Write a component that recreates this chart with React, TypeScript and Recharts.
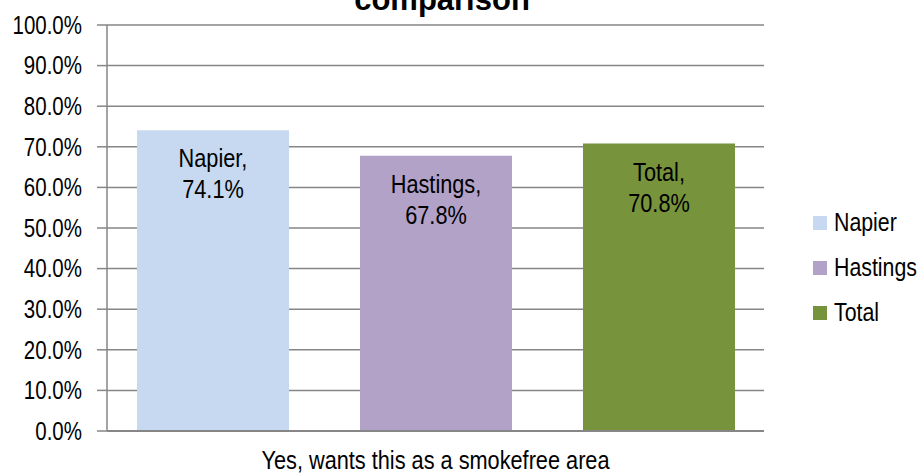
import { BarChart, Bar, XAxis, YAxis, CartesianGrid, Legend, LabelList } from 'recharts'

const categories = ['Yes, wants this as a smokefree area']
const seriesNames = ['Napier', 'Hastings', 'Total']
const napier = [0.741]
const hastings = [0.678]
const total = [0.708]
const yTicks = [0, 0.1, 0.2, 0.3, 0.4, 0.5, 0.6, 0.7, 0.8, 0.9, 1]
const edgeTicks = [0, 1]

const colors = ['#C6D9F1', '#B3A2C7', '#77933C']
const font = '"Liberation Sans", Arial, sans-serif'
const grey = '#868686'
// no narrow font installed, so squeeze regular Liberation Sans
const squeeze = 0.82

const data = categories.map((c, i) => ({
  category: c,
  Napier: napier[i],
  Hastings: hastings[i],
  Total: total[i],
}))

const pct = (v: number) => `${(v * 100).toFixed(1)}%`

function YTick(props: any) {
  const { x, y, payload } = props
  return (
    <text
      transform={`translate(${x},${y}) scale(${squeeze},1)`}
      textAnchor="end"
      dy="0.35em"
      fontSize={25}
      fontFamily={font}
      fill="#000"
    >
      {pct(payload.value)}
    </text>
  )
}

function XTick(props: any) {
  const { x, y, payload } = props
  return (
    <text
      transform={`translate(${x},${y}) scale(${squeeze},1)`}
      textAnchor="middle"
      dy="0.71em"
      fontSize={26.5}
      fontFamily={font}
      fill="#000"
    >
      {payload.value}
    </text>
  )
}

const makeLabel = (name: string) => (props: any) => {
  const { x, y, width, value } = props
  const cx = x + width / 2
  return (
    <g transform={`translate(${cx},${y}) scale(${squeeze},1)`}>
      <text textAnchor="middle" fontSize={26.5} fill="#000" fontFamily={font}>
        <tspan x={0} y={37}>{`${name},`}</tspan>
        <tspan x={0} y={68}>{pct(value)}</tspan>
      </text>
    </g>
  )
}

function LegendBox(props: any) {
  const { payload } = props
  const items = [...(payload || [])].sort(
    (a: any, b: any) => seriesNames.indexOf(a.value) - seriesNames.indexOf(b.value),
  )
  return (
    <div style={{ fontFamily: font, fontSize: 26, color: '#000', whiteSpace: 'nowrap' }}>
      {items.map((p: any) => (
        <div key={p.value} style={{ height: 45, display: 'flex', alignItems: 'center' }}>
          <span
            style={{ width: 14, height: 14, flexShrink: 0, background: p.color, marginRight: 7, display: 'inline-block' }}
          />
          <span style={{ display: 'inline-block', transform: `scaleX(${squeeze})`, transformOrigin: 'left center' }}>
            {p.value}
          </span>
        </div>
      ))}
    </div>
  )
}

export default function App() {
  return (
    <div style={{ position: 'absolute', left: 0, top: 0, width: 920, height: 476, background: '#fff' }}>
      <BarChart
        width={920}
        height={476}
        data={data}
        margin={{ top: 25, right: 156, bottom: 0, left: 0 }}
        barCategoryGap={30}
        barGap={71}
      >
        <CartesianGrid vertical={false} stroke={grey} strokeWidth={1.5} />
        <XAxis
          xAxisId="edge"
          type="number"
          domain={[0, 1]}
          ticks={edgeTicks}
          height={0}
          axisLine={false}
          tick={false}
          tickSize={9}
          tickLine={{ stroke: grey, strokeWidth: 1.5 }}
        />
        <XAxis
          dataKey="category"
          height={45}
          tickSize={0}
          tickMargin={19}
          tickLine={false}
          axisLine={{ stroke: grey, strokeWidth: 2 }}
          tick={<XTick />}
        />
        <YAxis
          width={107}
          domain={[0, 1]}
          ticks={yTicks}
          tickSize={10}
          tickMargin={15}
          axisLine={{ stroke: grey, strokeWidth: 1.5 }}
          tickLine={{ stroke: grey, strokeWidth: 1.5 }}
          tick={<YTick />}
        />
        <Legend
          layout="vertical"
          align="center"
          verticalAlign="middle"
          content={<LegendBox />}
          wrapperStyle={{ left: 813, top: 200, width: 107, height: 135 }}
        />
        {seriesNames.map((name, i) => (
          <Bar key={name} dataKey={name} fill={colors[i]} isAnimationActive={false}>
            <LabelList dataKey={name} content={makeLabel(name)} />
          </Bar>
        ))}
      </BarChart>
      <svg width={920} height={476} style={{ position: 'absolute', left: 0, top: 0, pointerEvents: 'none' }}>
        <text x={442} y={10} textAnchor="middle" fontSize={31} fontWeight="bold" fontFamily={font} fill="#000">
          comparison
        </text>
      </svg>
    </div>
  )
}
